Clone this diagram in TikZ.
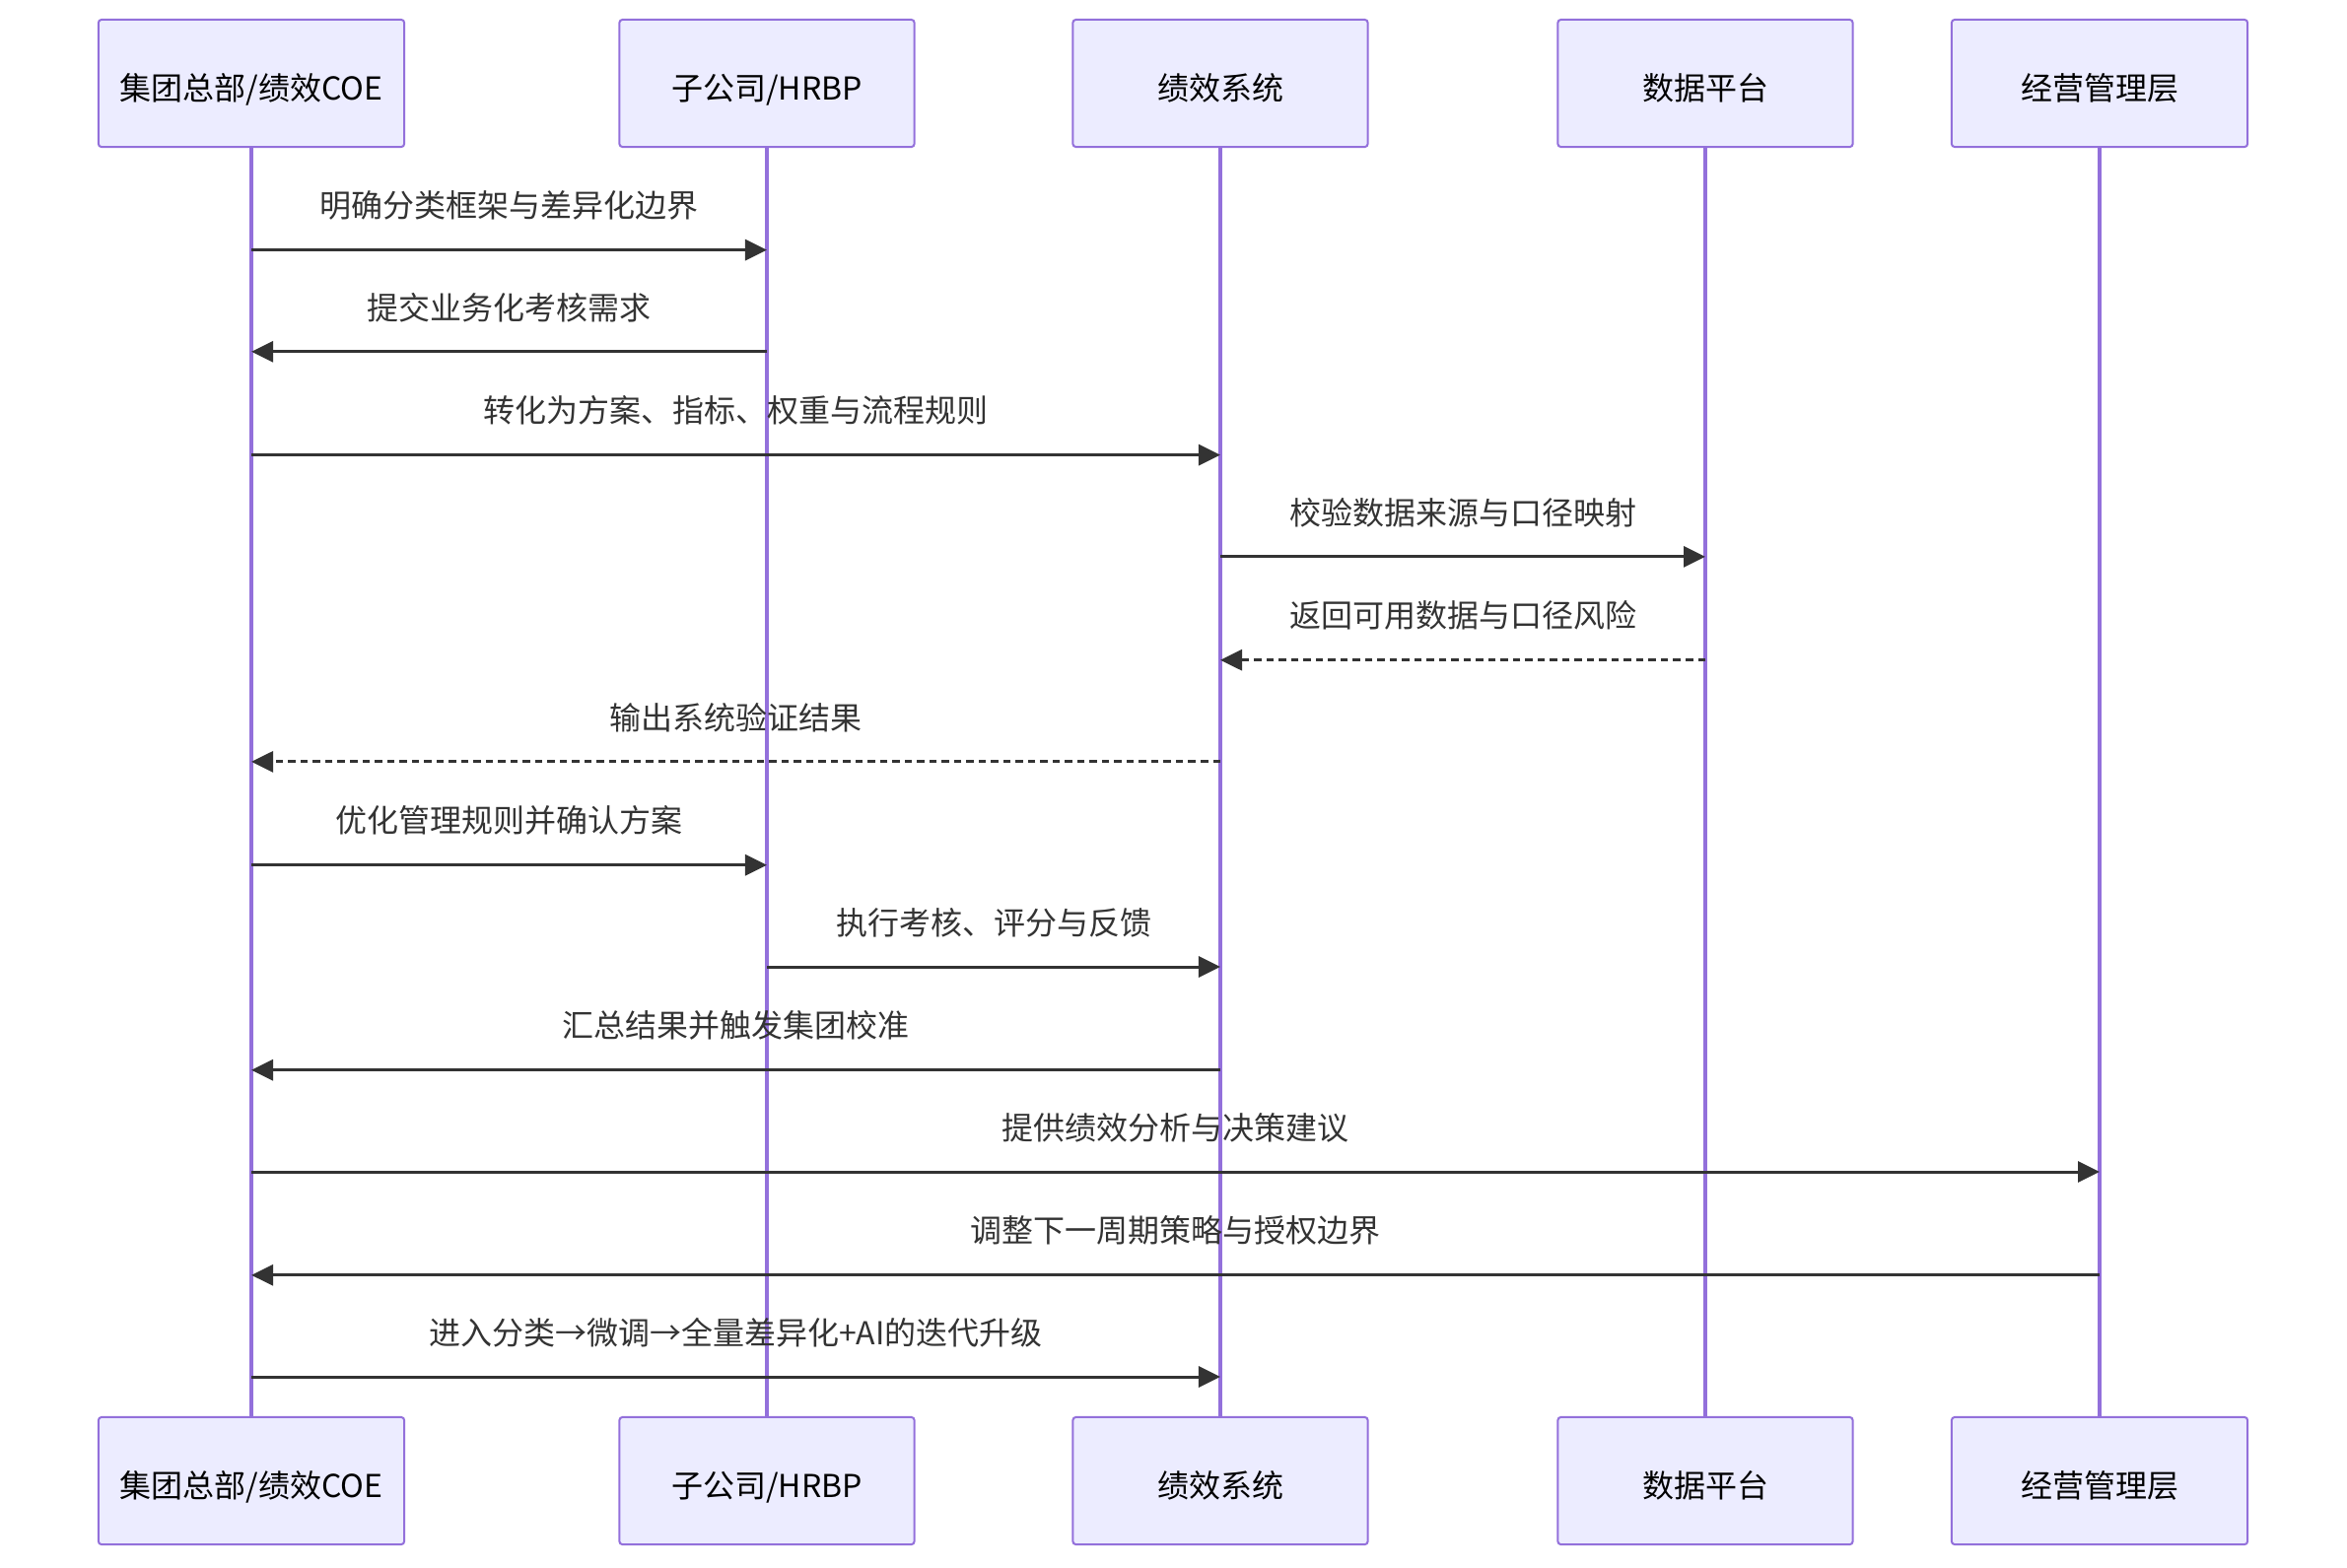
\documentclass[tikz,border=0pt]{standalone}
\usepackage{fontspec}
\newfontfamily\cjk{Noto Sans CJK SC}
\usetikzlibrary{arrows.meta}
\definecolor{boxfill}{HTML}{ECECFF}
\definecolor{boxline}{HTML}{9370DB}
\definecolor{msgcol}{HTML}{333333}
\tikzset{
  actor/.style={draw=boxline, fill=boxfill, line width=0.02cm, rounded corners=0.03cm,
    minimum height=1.29cm, inner sep=0pt, text height=0.33cm, text depth=0cm,
    font=\cjk\fontsize{9.1pt}{11pt}\selectfont, text=black},
  lifeline/.style={draw=boxline, line width=0.033cm},
  msg/.style={draw=msgcol, line width=0.03cm, -{Triangle[length=0.22cm,width=0.21cm]}},
  dmsg/.style={msg, dash pattern=on 0.075cm off 0.05cm},
  lbl/.style={midway, yshift=0.45cm, font=\cjk\fontsize{9.1pt}{11pt}\selectfont, text=msgcol, inner sep=0pt}
}
\begin{document}
\begin{tikzpicture}[x=0.01cm, y=-0.01cm]
\useasboundingbox (0,0) rectangle (2381,1590);
% top actors
\node[actor, minimum width=3.10cm] (t1) at (255,84.5) {集团总部/绩效COE};
\node[actor, minimum width=2.99cm] (t2) at (778,84.5) {子公司/HRBP};
\node[actor, minimum width=2.99cm] (t3) at (1238,84.5) {绩效系统};
\node[actor, minimum width=2.99cm] (t4) at (1730,84.5) {数据平台};
\node[actor, minimum width=3.00cm] (t5) at (2130,84.5) {经营管理层};
% bottom actors
\node[actor, minimum width=3.10cm] (b1) at (255,1502.5) {集团总部/绩效COE};
\node[actor, minimum width=2.99cm] (b2) at (778,1502.5) {子公司/HRBP};
\node[actor, minimum width=2.99cm] (b3) at (1238,1502.5) {绩效系统};
\node[actor, minimum width=2.99cm] (b4) at (1730,1502.5) {数据平台};
\node[actor, minimum width=3.00cm] (b5) at (2130,1502.5) {经营管理层};
% lifelines
\foreach \i in {1,...,5} { \draw[lifeline] (t\i.south) -- (b\i.north); }
% message rows
\coordinate (y1) at (0,253.6);
\coordinate (y2) at (0,356.8);
\coordinate (y3) at (0,461.6);
\coordinate (y4) at (0,564.9);
\coordinate (y5) at (0,669.7);
\coordinate (y6) at (0,772.9);
\coordinate (y7) at (0,877.7);
\coordinate (y8) at (0,981);
\coordinate (y9) at (0,1085.7);
\coordinate (y10) at (0,1189);
\coordinate (y11) at (0,1293.8);
\coordinate (y12) at (0,1397);
\draw[msg] (t1 |- y1) -- node[lbl] {明确分类框架与差异化边界} (t2 |- y1);
\draw[msg] (t2 |- y2) -- node[lbl] {提交业务化考核需求} (t1 |- y2);
\draw[msg] (t1 |- y3) -- node[lbl] {转化为方案、指标、权重与流程规则} (t3 |- y3);
\draw[msg] (t3 |- y4) -- node[lbl] {校验数据来源与口径映射} (t4 |- y4);
\draw[dmsg] (t4 |- y5) -- node[lbl] {返回可用数据与口径风险} (t3 |- y5);
\draw[dmsg] (t3 |- y6) -- node[lbl] {输出系统验证结果} (t1 |- y6);
\draw[msg] (t1 |- y7) -- node[lbl] {优化管理规则并确认方案} (t2 |- y7);
\draw[msg] (t2 |- y8) -- node[lbl] {执行考核、评分与反馈} (t3 |- y8);
\draw[msg] (t3 |- y9) -- node[lbl] {汇总结果并触发集团校准} (t1 |- y9);
\draw[msg] (t1 |- y10) -- node[lbl] {提供绩效分析与决策建议} (t5 |- y10);
\draw[msg] (t5 |- y11) -- node[lbl] {调整下一周期策略与授权边界} (t1 |- y11);
\draw[msg] (t1 |- y12) -- node[lbl] {进入分类→微调→全量差异化+AI的迭代升级} (t3 |- y12);
\end{tikzpicture}
\end{document}
